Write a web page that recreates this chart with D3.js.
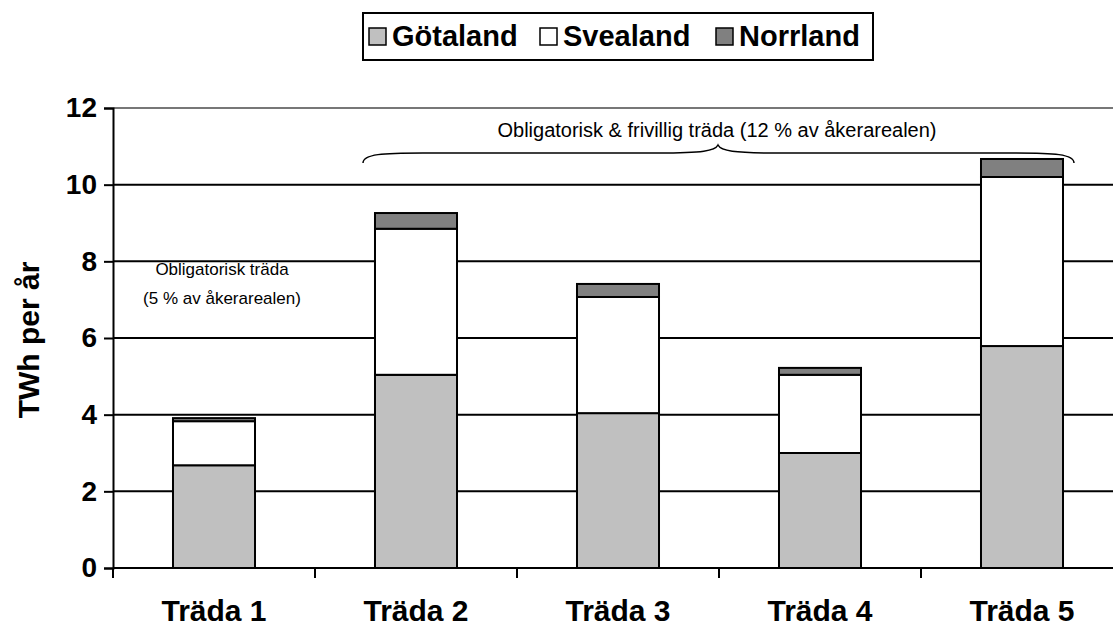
<!DOCTYPE html>
<html>
<head>
<meta charset="utf-8">
<script src="https://cdn.jsdelivr.net/npm/d3@7"></script>
<style>
  body { margin: 0; background: #fff; }
  svg { font-family: "Liberation Sans", Arial, sans-serif; }
</style>
</head>
<body>
<svg id="chart" width="1113" height="626"></svg>
<script>
var categories = ["Träda 1", "Träda 2", "Träda 3", "Träda 4", "Träda 5"];
var seriesNames = ["Götaland", "Svealand", "Norrland"];
var gotaland = [2.68, 5.04, 4.04, 3.0, 5.79];
var svealand = [1.15, 3.81, 3.03, 2.04, 4.41];
var norrland = [0.08, 0.41, 0.34, 0.18, 0.47];
var colors = ["#c0c0c0", "#ffffff", "#808080"];
var yTicks = [0, 2, 4, 6, 8, 10, 12];

var rows = categories.map(function(c, i) {
  return { cat: c, "Götaland": gotaland[i], "Svealand": svealand[i], "Norrland": norrland[i] };
});

var svg = d3.select("#chart");
var mLeft = 113, mTop = 108, mBottom = 568, mRight = 1123;

var x = d3.scaleBand().domain(categories).range([mLeft, mRight]).paddingInner(0.594).paddingOuter(0.297);
var xTick = d3.scaleBand().domain(categories).range([mLeft, mRight]);
var y = d3.scaleLinear().domain([0, 12]).range([mBottom, mTop]);

// gridlines
svg.append("g").selectAll("line")
  .data(yTicks.filter(function(d) { return d > 0; }))
  .enter().append("line")
    .attr("x1", mLeft).attr("x2", 1113)
    .attr("y1", function(d) { return y(d); })
    .attr("y2", function(d) { return y(d); })
    .attr("stroke", function(d) { return d === 12 ? "#777" : "#000"; })
    .attr("stroke-width", 2);

// stacked bars
var stack = d3.stack().keys(seriesNames)(rows);
svg.append("g").selectAll("g")
  .data(stack)
  .enter().append("g")
    .attr("fill", function(d, i) { return colors[i]; })
  .selectAll("rect")
  .data(function(d) { return d; })
  .enter().append("rect")
    .attr("x", function(d) { return x(d.data.cat); })
    .attr("width", x.bandwidth())
    .attr("y", function(d) { return y(d[1]); })
    .attr("height", function(d) { return y(d[0]) - y(d[1]); })
    .attr("stroke", "#000")
    .attr("stroke-width", 2);

// y axis
var yAxis = svg.append("g")
  .attr("transform", "translate(" + mLeft + ",0)")
  .call(d3.axisLeft(y).tickValues(yTicks).tickSize(9).tickPadding(7));
yAxis.select(".domain").attr("stroke", "#000").attr("stroke-width", 2);
yAxis.selectAll(".tick line").attr("stroke-width", 2);
yAxis.selectAll(".tick text")
  .attr("font-size", 28).attr("font-weight", "bold")
  .attr("font-family", "Liberation Sans, Arial, sans-serif").attr("fill", "#000");

// x axis
var xAxis = svg.append("g")
  .attr("transform", "translate(0," + mBottom + ")");
xAxis.append("line")
  .attr("x1", mLeft).attr("x2", 1113).attr("y1", 0).attr("y2", 0)
  .attr("stroke", "#000").attr("stroke-width", 2);
xAxis.selectAll(".xt")
  .data(categories)
  .enter().append("line")
    .attr("x1", function(d) { return xTick(d); })
    .attr("x2", function(d) { return xTick(d); })
    .attr("y1", 0).attr("y2", 10)
    .attr("stroke", "#000").attr("stroke-width", 2);
xAxis.selectAll("text")
  .data(categories)
  .enter().append("text")
    .attr("x", function(d) { return x(d) + x.bandwidth() / 2; })
    .attr("y", 53)
    .attr("text-anchor", "middle")
    .attr("font-size", 30).attr("font-weight", "bold")
    .text(function(d) { return d; });

// y label
svg.append("text")
  .attr("transform", "translate(39,340) rotate(-90)")
  .attr("text-anchor", "middle")
  .attr("font-size", 30).attr("font-weight", "bold")
  .text("TWh per år");

// annotations
svg.append("text")
  .attr("x", 222).attr("y", 275)
  .attr("text-anchor", "middle").attr("font-size", 17)
  .text("Obligatorisk träda");
svg.append("text")
  .attr("x", 222).attr("y", 304)
  .attr("text-anchor", "middle").attr("font-size", 17)
  .text("(5 % av åkerarealen)");
svg.append("text")
  .attr("x", 717).attr("y", 137)
  .attr("text-anchor", "middle").attr("font-size", 20)
  .text("Obligatorisk & frivillig träda (12 % av åkerarealen)");

// brace
var bx0 = 363, bx1 = 1074, bm = 718, by0 = 163, by1 = 153, bt = 145;
svg.append("path")
  .attr("d", "M" + bx0 + "," + by0 +
    " C" + bx0 + "," + (by1 + 1) + " " + (bx0 + 20) + "," + by1 + " " + (bx0 + 60) + "," + by1 +
    " L" + (bm - 60) + "," + by1 +
    " C" + (bm - 15) + "," + by1 + " " + (bm - 3) + "," + (by1 - 2) + " " + bm + "," + bt +
    " C" + (bm + 3) + "," + (by1 - 2) + " " + (bm + 15) + "," + by1 + " " + (bm + 60) + "," + by1 +
    " L" + (bx1 - 60) + "," + by1 +
    " C" + (bx1 - 20) + "," + by1 + " " + bx1 + "," + (by1 + 1) + " " + bx1 + "," + by0)
  .attr("fill", "none").attr("stroke", "#000").attr("stroke-width", 1.5);

// legend
var legend = svg.append("g");
legend.append("rect")
  .attr("x", 363).attr("y", 13).attr("width", 510).attr("height", 47)
  .attr("fill", "#fff").attr("stroke", "#000").attr("stroke-width", 2);
var legX = [369, 540, 716];
var items = legend.selectAll(".li")
  .data(seriesNames)
  .enter().append("g")
    .attr("transform", function(d, i) { return "translate(" + legX[i] + ",0)"; });
items.append("rect")
  .attr("x", 0).attr("y", 28).attr("width", 17).attr("height", 17)
  .attr("fill", function(d, i) { return colors[i]; })
  .attr("stroke", "#000").attr("stroke-width", 1.5);
items.append("text")
  .attr("x", 23).attr("y", 46)
  .attr("font-size", 29).attr("font-weight", "bold")
  .text(function(d) { return d; });
</script>
</body>
</html>
